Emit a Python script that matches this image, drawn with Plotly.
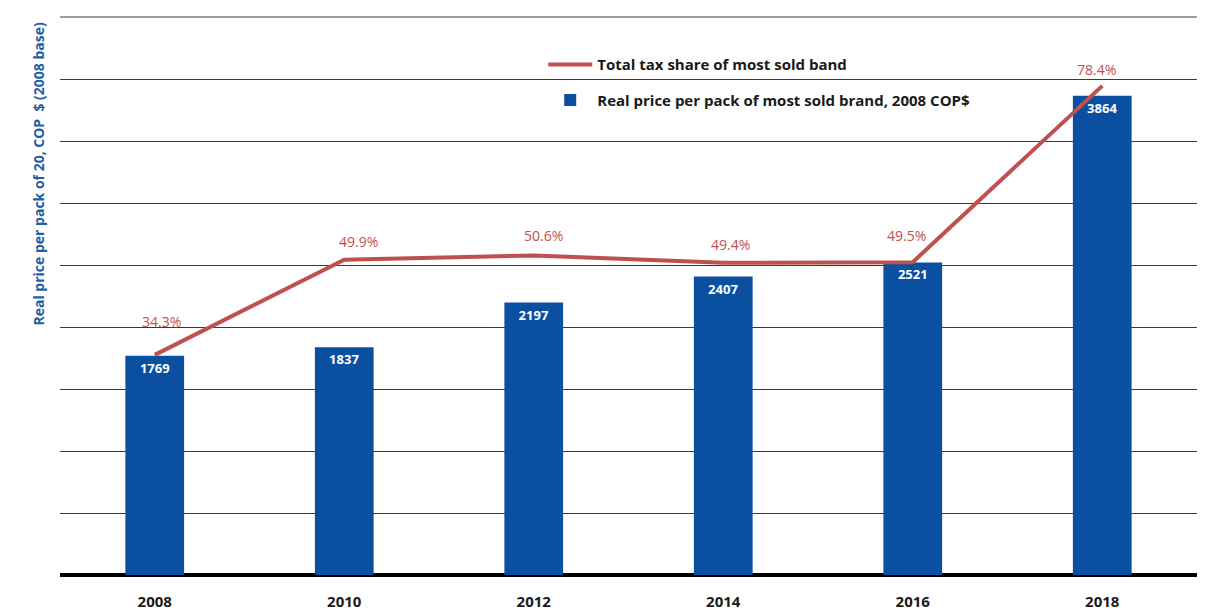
import plotly.graph_objects as go

years = ["2008", "2010", "2012", "2014", "2016", "2018"]
price = [1769, 1837, 2197, 2407, 2521, 3864]
tax_share = [34.3, 49.9, 50.6, 49.4, 49.5, 78.4]
tax_labels = ["34.3%", "49.9%", "50.6%", "49.4%", "49.5%", "78.4%"]

BLUE = "#0a4fa0"
RED = "#c0504d"
FONT = "Open Sans"
GRID = "#3a3a3a"
label_yshift = [33, 18, 20, 18, 27, 16]
label_xshift = [7, 14, 10, 7, -6, -6]

fig = go.Figure()
fig.add_trace(go.Bar(
    x=years, y=price, name="Real price per pack of most sold brand, 2008 COP$",
    marker=dict(color=BLUE, line=dict(width=0)), width=0.31,
    text=[str(v) for v in price], textposition="inside", insidetextanchor="end",
    textfont=dict(color="white", size=13, family=FONT, weight="bold"),
    cliponaxis=False, legendrank=2, legendgroup="b",
))
fig.add_trace(go.Scatter(
    x=years, y=tax_share, yaxis="y2", mode="lines",
    name="Total tax share of most sold band",
    line=dict(color=RED, width=4),
    cliponaxis=False, legendrank=1, legendgroup="a",
))

annotations = [dict(
    text="Real price per pack of 20, COP  $ (2008 base)", textangle=-90,
    xref="paper", yref="paper", x=-0.009, y=0.72, xanchor="right", yanchor="middle",
    showarrow=False, font=dict(size=14, family=FONT, weight="bold", color="#1f5fa8"),
)]
for i, (v, lab, ys, xs) in enumerate(zip(tax_share, tax_labels, label_yshift, label_xshift)):
    annotations.append(dict(
        x=i, y=v, xref="x", yref="y2", text=lab, showarrow=False,
        yshift=ys, xshift=xs,
        font=dict(color=RED, size=14, family=FONT),
    ))

fig.update_layout(
    width=1200, height=605,
    margin=dict(l=52, r=11, t=9, b=38),
    plot_bgcolor="white", paper_bgcolor="white",
    font=dict(family=FONT, color="#1a1a1a"),
    showlegend=True,
    legend=dict(x=0.425, y=0.944, xanchor="left", yanchor="top",
                font=dict(size=15, family=FONT, weight="bold", color="#1a1a1a"),
                bgcolor="rgba(0,0,0,0)", tracegroupgap=13, itemwidth=44),
    xaxis=dict(type="category", range=[-0.5, 5.5], showgrid=False, ticks="",
               tickfont=dict(size=15, family=FONT, weight="bold", color="#1a1a1a"),
               showline=False, zeroline=False, ticklabelstandoff=16, automargin=False),
    yaxis=dict(range=[0, 4500], tick0=0, dtick=500, showgrid=True, gridcolor=GRID,
               gridwidth=1, showticklabels=False, zeroline=True, zerolinecolor="black",
               zerolinewidth=4, showline=False, ticks="", automargin=False),
    yaxis2=dict(overlaying="y", side="right", range=[-1.8, 89.7], showgrid=False,
                showticklabels=False, zeroline=False, showline=False),
    annotations=annotations,
    shapes=[dict(type="line", xref="paper", yref="paper", x0=0, x1=1, y0=1, y1=1,
                 line=dict(color=GRID, width=1), layer="below")],
)

fig.write_html("out.html")
